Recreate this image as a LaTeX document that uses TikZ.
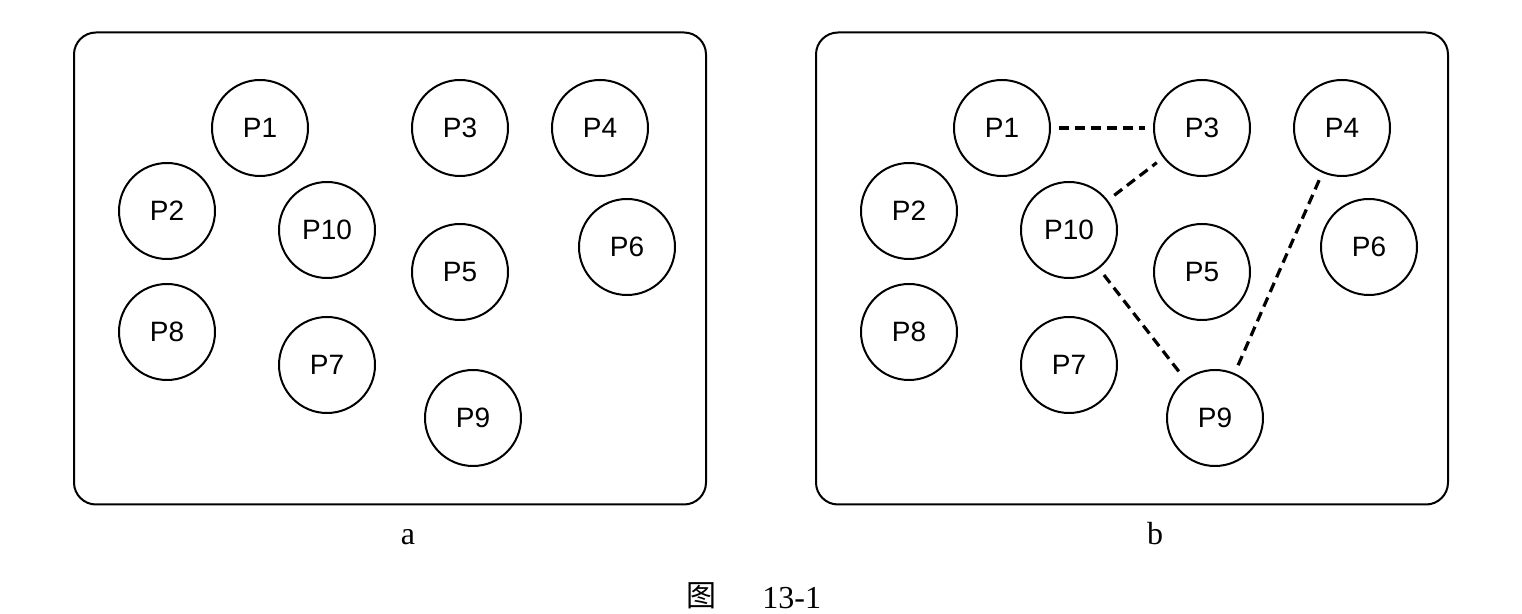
\documentclass[tikz,border=0pt]{standalone}
\usepackage{fontspec}
\setmainfont{Liberation Serif}
\newfontfamily\labelfont{Liberation Sans}
\newfontfamily\cjkfont{Noto Sans CJK SC}
\begin{document}
\begin{tikzpicture}[x=0.5pt,y=-0.5pt,
  pnode/.style={circle,draw,line width=1pt,minimum size=48pt,inner sep=0pt,font=\labelfont\fontsize{14}{16}\selectfont},
  panel/.style={draw,line width=1pt,rounded corners=11pt},
  link/.style={dashed,line width=1.6pt,dash pattern=on 5pt off 3pt,shorten >=4pt,shorten <=4pt},
  caption/.style={font=\fontsize{16}{18}\selectfont,inner sep=0pt}]
\useasboundingbox (0,0) rectangle (1522,614);
% panel a
\node[panel,minimum width=316pt,minimum height=236pt] (boxa) at (390,268.5) {};
\node[pnode] (a1) at (260,128) {P1};
\node[pnode] (a3) at (460,128) {P3};
\node[pnode] (a4) at (600,128) {P4};
\node[pnode] (a2) at (167,211) {P2};
\node[pnode] (a10) at (327,230) {P10};
\node[pnode] (a5) at (460,272) {P5};
\node[pnode] (a6) at (627,247) {P6};
\node[pnode] (a8) at (167,332) {P8};
\node[pnode] (a7) at (327,365) {P7};
\node[pnode] (a9) at (473,418) {P9};
% panel b
\node[panel,minimum width=316pt,minimum height=236pt] (boxb) at (1132,268.5) {};
\node[pnode] (b1) at (1002,128) {P1};
\node[pnode] (b3) at (1202,128) {P3};
\node[pnode] (b4) at (1342,128) {P4};
\node[pnode] (b2) at (909,211) {P2};
\node[pnode] (b10) at (1069,230) {P10};
\node[pnode] (b5) at (1202,272) {P5};
\node[pnode] (b6) at (1369,247) {P6};
\node[pnode] (b8) at (909,332) {P8};
\node[pnode] (b7) at (1069,365) {P7};
\node[pnode] (b9) at (1215,418) {P9};
\draw[link] (b1) -- (b3);
\draw[link] (b10) -- (b3);
\draw[link] (b10) -- (b9);
\draw[link] (b4) -- (b9);
% labels
\node[caption,anchor=base] (la) at (408,545) {a};
\node[caption,anchor=base] (lb) at (1155,545) {b};
\node[caption,anchor=base west,font=\cjkfont\fontsize{15}{18}\selectfont] (fig) at (686,607) {图};
\node[caption,anchor=base west] (num) at (762,609) {13-1};
\end{tikzpicture}
\end{document}
